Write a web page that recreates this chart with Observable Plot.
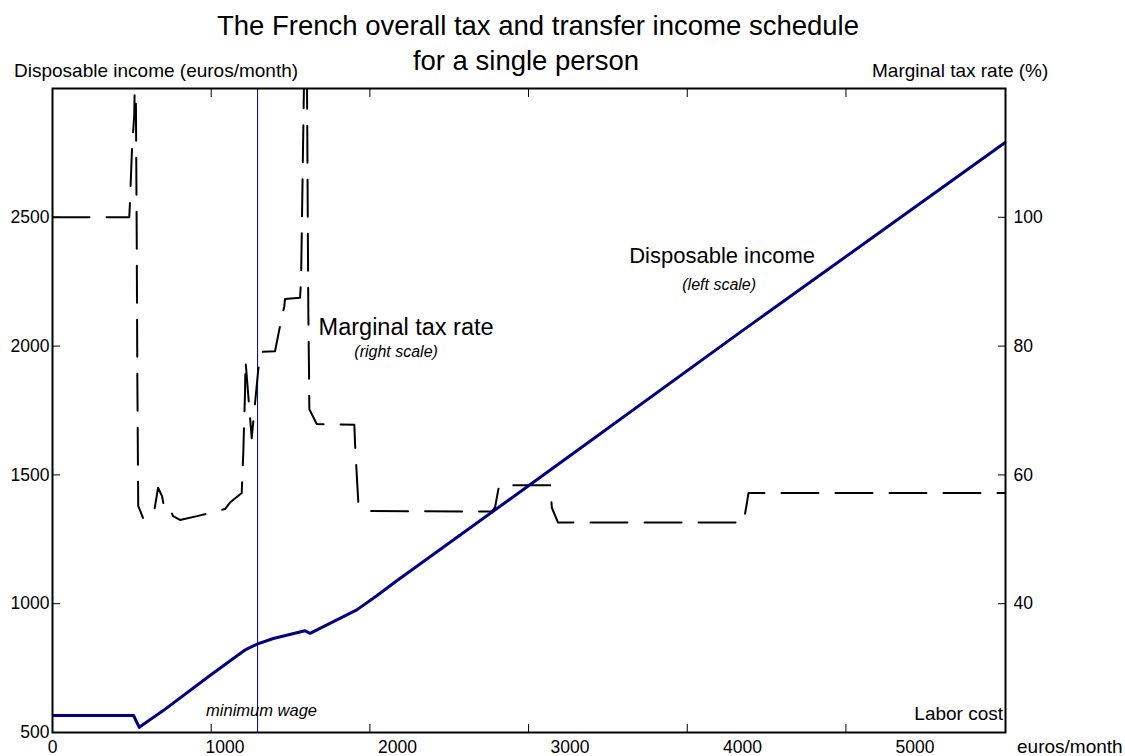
<!DOCTYPE html>
<html>
<head>
<meta charset="utf-8">
<script src="https://cdn.jsdelivr.net/npm/d3@7"></script>
<script src="https://cdn.jsdelivr.net/npm/@observablehq/plot@0.6"></script>
<style>
  body { margin: 0; background: #fff; }
  #wrap { position: relative; width: 1125px; height: 756px; font-family: 'Liberation Sans', Arial, sans-serif; color: #000; }
  #wrap svg { position: absolute; left: 0; top: 0; }
  .t { position: absolute; white-space: nowrap; line-height: 1; color: #000; }
  .c { transform: translateX(-50%); }
</style>
</head>
<body>
<div id="wrap">
  <div class="t c" style="left:538px;top:12px;font-size:27.5px;">The French overall tax and transfer income schedule</div>
  <div class="t c" style="left:526px;top:47px;font-size:27.5px;">for a single person</div>
  <div class="t" style="left:14px;top:61px;font-size:19px;">Disposable income (euros/month)</div>
  <div class="t" style="left:872px;top:61px;font-size:19px;">Marginal tax rate (%)</div>
  <div class="t" style="left:1017px;top:737px;font-size:19px;">euros/month</div>
</div>
<script>
// Disposable income (left scale), euros/month vs labor cost
const incomeLaborCost = [0, 470, 503, 642, 913, 1116, 1135, 1190, 1280, 1464, 1493, 1764, 1880, 1996, 3000, 4000, 5525];
const disposableIncome = [566, 566, 520, 585, 721, 820, 827, 844, 865, 895, 885, 976, 1031, 1089, 1574, 2060, 2791];

// Marginal tax rate (right scale), % vs labor cost
const mtrLaborCost = [0, 445, 449, 461, 474, 481, 484, 488, 492, 497, 525, 588, 612, 635, 647, 670, 699, 739, 838, 1000, 1029, 1097, 1106, 1116, 1119, 1155, 1193, 1213, 1290, 1319, 1344, 1348, 1435, 1441, 1462, 1474, 1483, 1487, 1489, 1532, 1750, 1754, 1773, 1822, 2547, 2566, 2585, 2595, 2885, 2895, 2931, 4006, 4025, 4035, 5525];
const marginalTaxRate = [100, 100, 102.2, 110.7, 115.9, 128, 116, 98.3, 74.6, 55.2, 53.3, 54.1, 58.0, 56.7, 55.0, 55.2, 53.6, 53.0, 53.6, 54.7, 55.7, 57.2, 63.4, 72.6, 77.7, 65.7, 76.4, 79.1, 79.2, 83.1, 86.2, 87.3, 87.5, 90.1, 128, 128, 85.7, 76.4, 70.2, 67.9, 67.8, 64.8, 55.7, 54.4, 54.3, 55.0, 57.8, 58.4, 58.4, 54.9, 52.6, 52.6, 55.5, 57.2, 57.2];

const minimumWage = 1189;

const xTickLabels = [0, 1000, 2000, 3000, 4000, 5000];
const xTickMarks = [920, 1840, 2760, 3680, 4600];
const leftTicks = [500, 1000, 1500, 2000, 2500];
const rightTicks = [40, 60, 80, 100];

// Right scale (rate) mapped onto left scale (income): 20% <-> 500, 120% <-> 3000
const rateToIncome = r => 500 + (r - 20) * 25;
const incomeToRate = v => (v - 500) / 25 + 20;

const income = incomeLaborCost.map((c, i) => ({cost: c, value: disposableIncome[i]}));
const mtr = mtrLaborCost.map((c, i) => ({cost: c, rate: marginalTaxRate[i]}));

const annotations = [
  {x: 3882, y: 2349, text: "Disposable income", size: 22, style: "normal"},
  {x: 3865, y: 2236, text: "(left scale)", size: 16, style: "italic"},
  {x: 2050, y: 2074, text: "Marginal tax rate", size: 23.5, style: "normal"},
  {x: 1992, y: 1977, text: "(right scale)", size: 16, style: "italic"},
  {x: 1212, y: 583, text: "minimum wage", size: 16.5, style: "italic"}
];

const navy = "#000080";
const plain = d => String(d);

const chart = Plot.plot({
  width: 1125,
  height: 756,
  marginLeft: 52,
  marginRight: 120,
  marginTop: 88,
  marginBottom: 24,
  x: {domain: [0, 5525]},
  y: {domain: [500, 3000]},
  style: {fontFamily: "'Liberation Sans', Arial, sans-serif", fontSize: "17.5px", color: "black", background: "transparent", overflow: "visible"},
  marks: [
    Plot.ruleX([minimumWage], {stroke: navy, strokeWidth: 1}),
    Plot.line(mtr, {x: "cost", y: d => rateToIncome(d.rate), stroke: "black", strokeWidth: 2, strokeDasharray: "37,17", clip: true}),
    Plot.line(income, {x: "cost", y: "value", stroke: navy, strokeWidth: 3, clip: true}),
    Plot.frame({stroke: "black", strokeWidth: 2}),
    Plot.axisX({anchor: "bottom", ticks: xTickLabels, tickFormat: plain, tickSize: 0, tickPadding: 8, label: null}),
    Plot.axisX({anchor: "bottom", ticks: xTickMarks, tickSize: -8, tickFormat: () => "", label: null}),
    Plot.axisX({anchor: "top", ticks: xTickMarks, tickSize: -8, tickFormat: () => "", label: null}),
    Plot.axisY({anchor: "left", ticks: leftTicks, tickFormat: plain, tickSize: -8, tickPadding: 11, label: null}),
    Plot.axisY({anchor: "right", ticks: rightTicks.map(rateToIncome), tickFormat: v => String(Math.round(incomeToRate(v))), tickSize: -8, tickPadding: 16, label: null}),
    ...annotations.map(a => Plot.text([a], {x: "x", y: "y", text: "text", fontSize: a.size, fontStyle: a.style, fill: "black"})),
    Plot.text(["Labor cost"], {x: () => 5511, y: () => 574, text: d => d, textAnchor: "end", fontSize: 19, fill: "black"})
  ]
});

document.getElementById("wrap").prepend(chart);
</script>
</body>
</html>
